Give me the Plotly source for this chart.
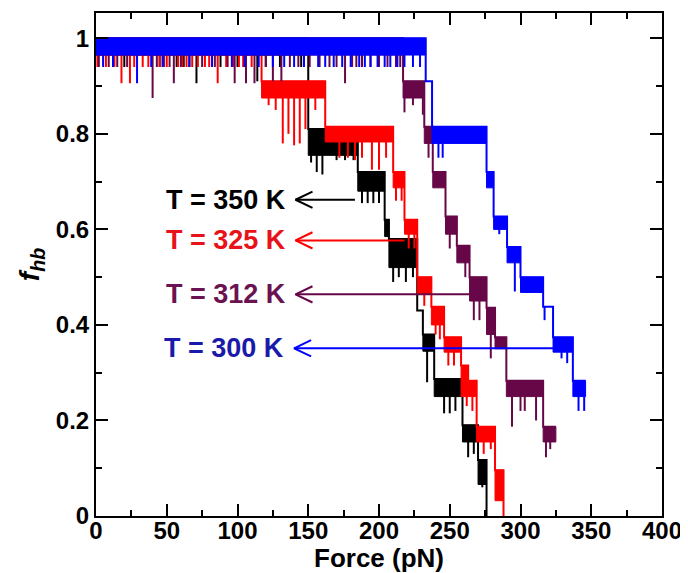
import numpy as np
import plotly.graph_objects as go

# ---------------- data ----------------
x_ticks = [0, 50, 100, 150, 200, 250, 300, 350, 400]
y_ticks = [0, 0.2, 0.4, 0.6, 0.8, 1.0]
y_ticktext = ["0", "0.2", "0.4", "0.6", "0.8", "1"]

# T = 350 K (black): plateau edges, plateau top level, lower edge of fluctuation band
black_edges = [0, 150, 185, 204, 207, 227, 231, 239, 259, 270, 276, 276]
black_top = [1.0, 0.81, 0.72, 0.62, 0.58, 0.43, 0.38, 0.287, 0.19, 0.117, 0.0]
black_low = [0.965, 0.755, 0.68, 0.585, 0.52, 0.43, 0.345, 0.25, 0.155, 0.066, 0.0]
black_spike_x = [20, 45, 57, 62, 66, 71, 88, 100, 114, 120, 130, 145, 152, 156, 160, 170, 176, 182,
                 188, 192, 196, 200, 210, 214, 219, 224, 234, 246, 250, 254, 263, 267, 273]
black_spike_y = [0.94, 0.94, 0.94, 0.94, 0.94, 0.906, 0.94, 0.94, 0.91, 0.94, 0.94, 0.94, 0.74, 0.72, 0.715,
                 0.745, 0.745, 0.745, 0.655, 0.655, 0.655, 0.655, 0.49, 0.5, 0.49, 0.5, 0.28,
                 0.215, 0.215, 0.22, 0.123, 0.13, 0.06]

# T = 325 K (red)
red_edges = [0, 117, 162, 210, 218, 227, 237, 246, 258, 263, 269, 282, 288, 288]
red_top = [1.0, 0.91, 0.815, 0.72, 0.62, 0.50, 0.438, 0.374, 0.315, 0.283, 0.187, 0.096, 0.0]
red_low = [0.965, 0.875, 0.783, 0.687, 0.59, 0.464, 0.40, 0.343, 0.25, 0.25, 0.155, 0.032, 0.0]
red_spike_x = [1, 7, 13, 18, 24, 27, 33, 37, 45, 50, 58, 61, 64, 68, 72, 77, 80, 86, 92, 97, 101, 104, 110,
               122, 127, 132, 136, 140, 144, 148, 155, 172, 178, 183, 188, 195, 200, 205,
               212, 216, 221, 225, 232, 240, 243, 249, 253, 262, 266, 274, 279]
red_spike_y = [0.94, 0.94, 0.94, 0.906, 0.906, 0.94, 0.94, 0.94, 0.94, 0.94, 0.94, 0.94, 0.94, 0.94, 0.94,
               0.94, 0.94, 0.906, 0.94, 0.94, 0.94, 0.94, 0.94,
               0.86, 0.85, 0.78, 0.80, 0.776, 0.78, 0.81, 0.85, 0.75, 0.75, 0.745, 0.75, 0.725, 0.725, 0.75,
               0.66, 0.66, 0.56, 0.56, 0.44, 0.38, 0.37, 0.315, 0.315, 0.23, 0.22, 0.13, 0.14]

# T = 312 K (maroon)
maroon_edges = [0, 217, 232, 238, 247, 255, 264, 276, 282, 290, 316, 325]
maroon_top = [1.0, 0.91, 0.815, 0.72, 0.627, 0.566, 0.50, 0.436, 0.374, 0.283, 0.187]
maroon_low = [0.965, 0.875, 0.78, 0.687, 0.59, 0.53, 0.45, 0.38, 0.35, 0.25, 0.155]
maroon_spike_x = [2, 9, 15, 22, 40, 43, 48, 52, 55, 60, 75, 84, 93, 98, 106, 112, 120, 125, 131, 137,
                  143, 147, 151, 158, 165, 170, 176, 181, 184, 188, 194, 200, 206, 212, 215,
                  218, 224, 231, 235, 250, 261, 267, 271, 279, 294, 300, 303, 311, 318, 321]
maroon_spike_y = [0.94, 0.94, 0.94, 0.94, 0.875, 0.94, 0.94, 0.94, 0.906, 0.94, 0.94, 0.94, 0.94, 0.906,
                  0.906, 0.906, 0.94, 0.91, 0.91, 0.94, 0.94, 0.94, 0.94, 0.94, 0.94, 0.94, 0.906, 0.94,
                  0.94, 0.94, 0.94, 0.94, 0.94, 0.94, 0.94,
                  0.845, 0.86, 0.84, 0.75, 0.56, 0.50, 0.41, 0.41, 0.33, 0.187, 0.22, 0.22, 0.2, 0.123, 0.14]

# T = 300 K (blue)
blue_edges = [0, 233, 237.5, 276, 281, 290.5, 300, 316, 323, 337, 346]
blue_top = [1.0, 0.91, 0.815, 0.72, 0.627, 0.563, 0.50, 0.438, 0.374, 0.283]
blue_low = [0.965, 0.91, 0.78, 0.687, 0.60, 0.53, 0.468, 0.438, 0.343, 0.25]
blue_spike_x = [5, 12, 29, 39, 47, 66, 82, 96, 105, 115, 125, 133, 140, 147, 157, 162, 168, 174, 180,
                186, 190, 194, 199, 204, 208, 213, 218, 224, 229,
                242, 245, 285, 296, 317, 329, 333, 341, 345]
blue_spike_y = [0.94, 0.94, 0.906, 0.94, 0.94, 0.94, 0.94, 0.94, 0.94, 0.94, 0.94, 0.94, 0.94, 0.94, 0.94,
                0.94, 0.94, 0.94, 0.94, 0.94, 0.94, 0.94, 0.94, 0.94, 0.94, 0.94, 0.94, 0.94, 0.94,
                0.75, 0.75, 0.59, 0.47, 0.41, 0.33, 0.32, 0.22, 0.22]

# labels with arrows
label_text = ["T = 350 K", "T = 325 K", "T = 312 K", "T = 300 K"]
label_y = [0.662, 0.577, 0.464, 0.351]
arrow_tip_x = [141, 141, 141, 140]
arrow_tail_x = [183, 218, 266, 327]

# ---------------- styles ----------------
line_colors = ["#000000", "#ff0000", "#670748", "#0000ff"]
text_colors = ["#000000", "#e8121a", "#6a1350", "#1a1aaa"]
FONT = "Liberation Sans, Arial, Helvetica, sans-serif"
HEAD_DX = 12.0     # arrow head length in force units (~17 px)
HEAD_DY = 0.017    # arrow head half height in f units (~8 px)

curves = [
    (black_edges, black_top, black_low, black_spike_x, black_spike_y),
    (red_edges, red_top, red_low, red_spike_x, red_spike_y),
    (maroon_edges, maroon_top, maroon_low, maroon_spike_x, maroon_spike_y),
    (blue_edges, blue_top, blue_low, blue_spike_x, blue_spike_y),
]

fig = go.Figure()

for (edges, top, low, sx, sy), col in zip(curves, line_colors):
    edges = np.asarray(edges, float)
    bx, by = [], []
    for i in range(len(top)):
        if low[i] < top[i] and edges[i + 1] > edges[i]:
            bx += [edges[i], edges[i + 1], edges[i + 1], edges[i], edges[i], None]
            by += [top[i], top[i], low[i], low[i], top[i], None]
    fig.add_trace(go.Scatter(x=bx, y=by, mode="lines", fill="toself", fillcolor=col,
                             line=dict(color=col, width=1), hoverinfo="skip", showlegend=False))
    px, py = [], []
    for x, y in zip(sx, sy):
        k = int(np.searchsorted(edges, x, side="right") - 1)
        k = min(max(k, 0), len(top) - 1)
        px += [x, x, None]
        py += [top[k], y, None]
    fig.add_trace(go.Scatter(x=px, y=py, mode="lines", line=dict(color=col, width=2),
                             hoverinfo="skip", showlegend=False))
    lx, ly = [], []
    for i in range(len(top)):
        lx += [edges[i], edges[i + 1]]
        ly += [top[i], top[i]]
    fig.add_trace(go.Scatter(x=lx, y=ly, mode="lines", line=dict(color=col, width=2),
                             hoverinfo="skip", showlegend=False))

for txt, y, tip, tail, lc, tc in zip(label_text, label_y, arrow_tip_x, arrow_tail_x, line_colors, text_colors):
    fig.add_trace(go.Scatter(
        x=[tail, tip, None, tip + HEAD_DX, tip, tip + HEAD_DX],
        y=[y, y, None, y + HEAD_DY, y, y - HEAD_DY],
        mode="lines", line=dict(color=lc, width=2), hoverinfo="skip", showlegend=False))
    fig.add_annotation(x=tip, y=y, xref="x", yref="y", text=txt, showarrow=False,
                       xanchor="right", yanchor="middle", xshift=-8,
                       font=dict(family=FONT, size=27, color=tc, weight="bold"))

axis_common = dict(
    showgrid=False, zeroline=False, showline=True, linecolor="black", linewidth=2,
    mirror="allticks", ticks="inside", ticklen=12, tickwidth=2, tickcolor="black",
    automargin=False,
    tickfont=dict(family=FONT, size=24, color="black", weight="bold"),
)

# the page body adds an 8 px offset; the figure is sized to fill the rest of the window
fig.update_layout(
    width=680, height=565,
    margin=dict(l=88, r=26, t=5, b=57),
    paper_bgcolor="white", plot_bgcolor="white",
    xaxis=dict(range=[0, 400], tickvals=x_ticks, ticklabelstandoff=-8,
               minor=dict(dtick=25, tick0=0, ticks="inside", ticklen=6, tickwidth=2, tickcolor="black"),
               title=dict(text="Force (pN)", standoff=0,
                          font=dict(family=FONT, size=26, color="black", weight="bold")),
               **axis_common),
    yaxis=dict(range=[0, 1.053], tickvals=y_ticks, ticktext=y_ticktext,
               minor=dict(dtick=0.1, tick0=0, ticks="inside", ticklen=6, tickwidth=2, tickcolor="black"),
               title=dict(text="<i>f</i><sub><i>hb</i></sub>", standoff=8,
                          font=dict(family=FONT, size=28, color="black", weight="bold")),
               **axis_common),
)

fig.write_html("out.html")
